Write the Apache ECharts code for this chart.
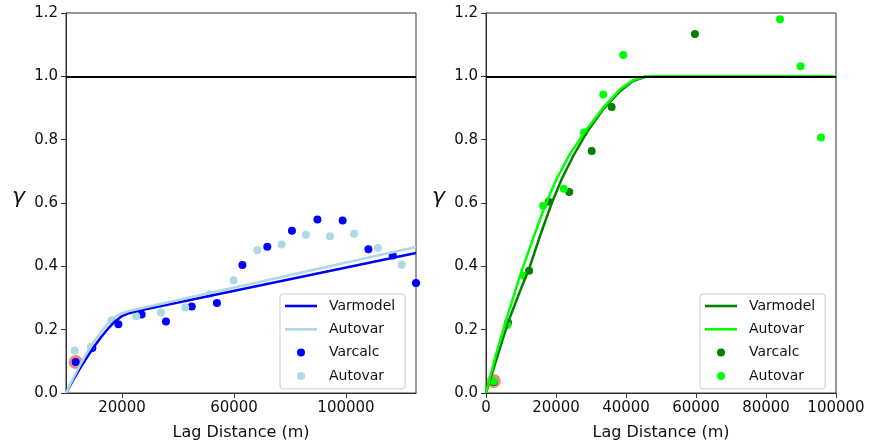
<!DOCTYPE html>
<html lang="en" style="height: 100%">
<head>
  <meta charset="utf-8">
</head>
<body style="height: 100%; margin: 0; background: #fff">
  <div id="container" style="width: 869px; height: 446px"></div>

  <script type="text/javascript" src="https://cdn.jsdelivr.net/npm/echarts@6.0.0/dist/echarts.min.js"></script>
  <script type="text/javascript">
    // left panel (blue) - lag distance (m), gamma
    var leftVarmodel = [[0, 0], [2500, 0.04], [5000, 0.078], [7500, 0.113], [10000, 0.146], [12500, 0.176], [15000, 0.203], [17500, 0.226], [20000, 0.243], [22500, 0.252], [25000, 0.258], [125000, 0.442]];
    var leftAutovarLine = [[0, 0], [2500, 0.045], [5000, 0.088], [7500, 0.127], [10000, 0.162], [12500, 0.193], [15000, 0.22], [17500, 0.24], [20000, 0.252], [22500, 0.259], [125000, 0.461]];
    var leftVarcalc = [[3460, 0.098], [9400, 0.142], [18700, 0.217], [27000, 0.248], [35700, 0.226], [44900, 0.273], [53900, 0.284], [63000, 0.404], [71900, 0.462], [80700, 0.512], [89800, 0.548], [98800, 0.545], [108000, 0.454], [116700, 0.434], [125000, 0.347]];
    var leftAutovarPts = [[3100, 0.134], [8900, 0.146], [16300, 0.23], [25100, 0.242], [33900, 0.254], [42600, 0.27], [51300, 0.311], [59800, 0.356], [68300, 0.451], [77000, 0.469], [85700, 0.5], [94300, 0.495], [102900, 0.503], [111400, 0.458], [119900, 0.405]];
    var leftMarked = [[3460, 0.098]];

    // right panel (green)
    var rightVarmodel = [[0, 0], [3100, 0.11], [6200, 0.22], [9300, 0.31], [12400, 0.395], [15400, 0.495], [18800, 0.6], [21600, 0.675], [25000, 0.75], [28800, 0.823], [33500, 0.896], [38300, 0.953], [42000, 0.985], [46000, 1.0], [100000, 1.0]];
    var rightAutovarLine = [[0, 0], [2800, 0.12], [5700, 0.228], [9700, 0.37], [13500, 0.489], [16900, 0.593], [20200, 0.677], [24000, 0.755], [28800, 0.833], [33500, 0.901], [38300, 0.959], [42000, 0.988], [45500, 1.0], [100000, 1.0]];
    var rightVarcalc = [[2200, 0.035], [6300, 0.222], [12300, 0.386], [17900, 0.604], [23800, 0.635], [30200, 0.764], [35900, 0.903], [59700, 1.134]];
    var rightAutovarPts = [[2200, 0.038], [6100, 0.215], [10700, 0.371], [16300, 0.591], [22200, 0.645], [28000, 0.823], [33500, 0.943], [39200, 1.067], [84000, 1.18], [89900, 1.032], [95700, 0.807]];
    var rightMarked = [[2200, 0.038]];

    var leftXTicks = [20000, 60000, 100000];
    var rightXTicks = [0, 20000, 40000, 60000, 80000, 100000];
    var sillLevel = 1.0;

    var dom = document.getElementById('container');
    var myChart = echarts.init(dom, null, { renderer: 'canvas' });

    var font = 'DejaVu Sans';
    var labelNames = {
      vmL: 'Varmodel', avL: 'Autovar', vcL: 'Varcalc', apL: 'Autovar',
      vmR: 'Varmodel', avR: 'Autovar', vcR: 'Varcalc', apR: 'Autovar'
    };
    var lineIcon = 'path://M0,0H32V2.6H0Z';

    function xAxisFor(idx, max, ticks) {
      return {
        gridIndex: idx, type: 'value', min: 0, max: max,
        axisLine: { lineStyle: { color: '#333', width: 1 } },
        axisTick: { customValues: ticks, length: 5, lineStyle: { color: '#333' } },
        axisLabel: { customValues: ticks, fontSize: 15, color: '#111', fontFamily: font, margin: 8,
          formatter: function (v) { return String(v); } },
        splitLine: { show: false },
        name: 'Lag Distance (m)', nameLocation: 'middle', nameGap: 32,
        nameTextStyle: { fontSize: 16, color: '#111', fontFamily: font }
      };
    }
    function yAxisFor(idx) {
      return {
        gridIndex: idx, type: 'value', min: 0, max: 1.2, interval: 0.2,
        axisLine: { show: true, lineStyle: { color: '#333', width: 1 } },
        axisTick: { show: true, length: 5, lineStyle: { color: '#333' } },
        axisLabel: { fontSize: 15, color: '#111', fontFamily: font, margin: 8,
          formatter: function (v) { return v.toFixed(1); } },
        splitLine: { show: false }
      };
    }
    function legendFor(left, names) {
      return {
        left: left, top: 294, orient: 'vertical',
        data: [
          { name: names[0], icon: lineIcon },
          { name: names[1], icon: lineIcon },
          { name: names[2], icon: 'circle' },
          { name: names[3], icon: 'circle' }
        ],
        itemWidth: 32, itemHeight: 8, itemGap: 9.3,
        padding: [5, 10, 6, 5],
        borderColor: '#ccc', borderWidth: 1, borderRadius: 3,
        backgroundColor: 'rgba(255,255,255,0.85)',
        textStyle: { fontSize: 14, color: '#111', fontFamily: font, padding: [0, 0, 0, 7] },
        formatter: function (n) { return labelNames[n]; }
      };
    }
    function lineSeries(name, idx, data, color) {
      return {
        name: name, type: 'line', xAxisIndex: idx, yAxisIndex: idx, data: data,
        symbol: 'none', showSymbol: false,
        lineStyle: { color: color, width: 2.5 }, itemStyle: { color: color }
      };
    }
    function dotSeries(name, idx, data, color, size) {
      return {
        name: name, type: 'scatter', xAxisIndex: idx, yAxisIndex: idx, data: data,
        symbol: 'circle', symbolSize: size, itemStyle: { color: color, opacity: 1 }
      };
    }
    function gammaLabel(x) {
      return { type: 'text', x: x, y: 197, style: { text: 'γ', fontSize: 22, fontStyle: 'italic', fontFamily: font, fill: '#111', verticalAlign: 'middle' } };
    }

    var option = {
      animation: false,
      grid: [
        { left: 66, top: 13, width: 350, height: 383, show: true, borderColor: '#333', borderWidth: 1 },
        { left: 486, top: 13, width: 350, height: 383, show: true, borderColor: '#333', borderWidth: 1 }
      ],
      xAxis: [xAxisFor(0, 125000, leftXTicks), xAxisFor(1, 100000, rightXTicks)],
      yAxis: [yAxisFor(0), yAxisFor(1)],
      legend: [
        legendFor(280, ['vmL', 'avL', 'vcL', 'apL']),
        legendFor(700, ['vmR', 'avR', 'vcR', 'apR'])
      ],
      graphic: [gammaLabel(12), gammaLabel(432)],
      series: [
        Object.assign(lineSeries('vmL', 0, leftVarmodel, '#0000ff'), {
          markLine: { silent: true, symbol: ['none', 'none'], label: { show: false },
            lineStyle: { color: '#000', width: 2, type: 'solid' }, data: [{ yAxis: sillLevel }] }
        }),
        lineSeries('avL', 0, leftAutovarLine, '#add8e6'),
        dotSeries('markL', 0, leftMarked, '#f4877f', 14),
        dotSeries('vcL', 0, leftVarcalc, '#0000ff', 8),
        dotSeries('apL', 0, leftAutovarPts, '#add8e6', 8),

        Object.assign(lineSeries('vmR', 1, rightVarmodel, '#008000'), {
          markLine: { silent: true, symbol: ['none', 'none'], label: { show: false },
            lineStyle: { color: '#000', width: 2, type: 'solid' }, data: [{ yAxis: sillLevel }] }
        }),
        lineSeries('avR', 1, rightAutovarLine, '#00ff00'),
        dotSeries('markR', 1, rightMarked, '#f4877f', 14),
        dotSeries('vcR', 1, rightVarcalc, '#008000', 8),
        dotSeries('apR', 1, rightAutovarPts, '#00ff00', 8)
      ]
    };

    myChart.setOption(option);
    window.addEventListener('resize', myChart.resize);
  </script>
</body>
</html>
